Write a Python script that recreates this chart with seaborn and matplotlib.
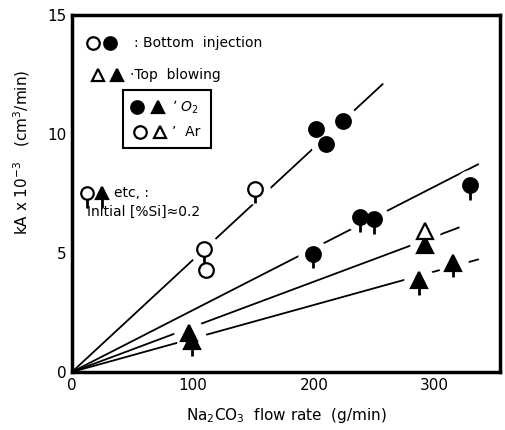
import matplotlib
matplotlib.use("Agg")
import matplotlib.pyplot as plt
import seaborn as sns
import pandas as pd
import numpy as np

# ---- data ----
# bottom injection, Ar (open circles)
ar_bot_x = [109, 111, 151]
ar_bot_y = [5.15, 4.27, 7.7]
ar_bot_si = [True, False, True]
# bottom injection, O2 (filled circles)
o2_bot_x = [202, 210, 224, 199, 238, 250, 329]
o2_bot_y = [10.2, 9.58, 10.55, 4.97, 6.52, 6.42, 7.85]
o2_bot_si = [False, False, False, True, True, True, True]
# top blowing, O2 (filled triangles)
o2_top_x = [99, 97, 292, 287, 315]
o2_top_y = [1.3, 1.63, 5.35, 3.85, 4.6]
o2_top_si = [True, False, False, True, True]
# top blowing, Ar (open triangles)
ar_top_x = [292]
ar_top_y = [5.94]
ar_top_si = [False]
# fitted lines through the origin: end points
line_end_x = [257, 336, 320, 336]
line_end_y = [12.1, 8.73, 6.07, 4.73]

xticks = [0, 100, 200, 300]
yticks = [0, 5, 10, 15]

sns.set_theme(style="white")
plt.rcParams['font.family'] = ['DejaVu Sans']
plt.rcParams['mathtext.fontset'] = 'dejavusans'
for k in ['text.color', 'axes.labelcolor', 'xtick.color', 'ytick.color']:
    plt.rcParams[k] = 'black'

fig = plt.figure(figsize=(5.05, 4.3), dpi=100)
ax = fig.add_axes([0.1426, 0.135, 0.8475, 0.830])

# lines
for i, (ex, ey) in enumerate(zip(line_end_x, line_end_y)):
    df = pd.DataFrame({"x": [0, ex], "y": [0, ey]})
    sns.lineplot(data=df, x="x", y="y", ax=ax, color="black", lw=1.3, zorder=1)

groups = [
    (ar_bot_x, ar_bot_y, ar_bot_si, "o", False),
    (o2_bot_x, o2_bot_y, o2_bot_si, "o", True),
    (o2_top_x, o2_top_y, o2_top_si, "^", True),
    (ar_top_x, ar_top_y, ar_top_si, "^", False),
]

# white halos to break lines around markers
for xs, ys, si, mk, filled in groups:
    sns.scatterplot(x=xs, y=ys, ax=ax, marker="o", s=480, color="white",
                    edgecolor="white", linewidth=0, zorder=2)

# stems for initial [%Si]=0.2
for xs, ys, si, mk, filled in groups:
    sx = [x for x, f in zip(xs, si) if f]
    sy = [y for y, f in zip(ys, si) if f]
    if sx:
        ax.vlines(sx, np.array(sy) - 0.62, sy, color="black", lw=2.0, zorder=3)

# markers
for xs, ys, si, mk, filled in groups:
    for x, y in zip(xs, ys):
        ax.plot([x], [y], marker=mk, ms=10.5 if mk == "o" else 11,
                mfc="black" if filled else "white", mec="black", mew=1.6,
                ls="none", zorder=4)

ax.set_xlim(0, 354)
ax.set_ylim(0, 15)
ax.set_xticks(xticks)
ax.set_yticks(yticks)
ax.tick_params(direction="in", length=5, width=1.2, labelsize=11, pad=4,
               colors="black")
for sp in ax.spines.values():
    sp.set_linewidth(2.5)
    sp.set_color("black")

ax.set_xlabel("Na$_2$CO$_3$  flow rate  (g/min)", fontsize=11, labelpad=10)
ax.set_ylabel("kA x 10$^{-3}$   (cm$^3$/min)", fontsize=11)
ax.yaxis.set_label_coords(-0.093, 0.616)

# ---- legend drawn as annotations (axes fraction) ----
T = ax.transAxes
def mark(x, y, mk, filled, stem=False, ms=9):
    if stem:
        ax.plot([x, x], [y, y - 0.04], color="black", lw=2.0, transform=T,
                clip_on=False, zorder=5)
    ax.plot([x], [y], marker=mk, ms=ms, mfc="black" if filled else "white",
            mec="black", mew=1.6, transform=T, clip_on=False, zorder=6)

mark(0.049, 0.922, "o", False)
mark(0.089, 0.922, "o", True)
ax.text(0.145, 0.922, ": Bottom  injection", transform=T, va="center", fontsize=10)
mark(0.061, 0.832, "^", False)
mark(0.105, 0.832, "^", True)
ax.text(0.136, 0.832, "\u00b7Top  blowing", transform=T, va="center", fontsize=10)

box = plt.Rectangle((0.119, 0.627), 0.206, 0.163, transform=T, fill=False,
                    lw=1.5, ec="black", zorder=5)
ax.add_patch(box)
mark(0.152, 0.742, "o", True)
mark(0.201, 0.742, "^", True)
ax.text(0.233, 0.742, "\u2019 $O_2$", transform=T, va="center", fontsize=10)
mark(0.159, 0.672, "o", False)
mark(0.206, 0.672, "^", False)
ax.text(0.233, 0.672, "\u2019  Ar", transform=T, va="center", fontsize=10)

mark(0.035, 0.501, "o", False, stem=True)
mark(0.070, 0.501, "^", True, stem=True)
ax.text(0.097, 0.501, "etc, :", transform=T, va="center", fontsize=10)
ax.text(0.036, 0.448, "Initial [%Si]\u22480.2", transform=T, va="center", fontsize=10)

fig.savefig("out.png", dpi=100)
